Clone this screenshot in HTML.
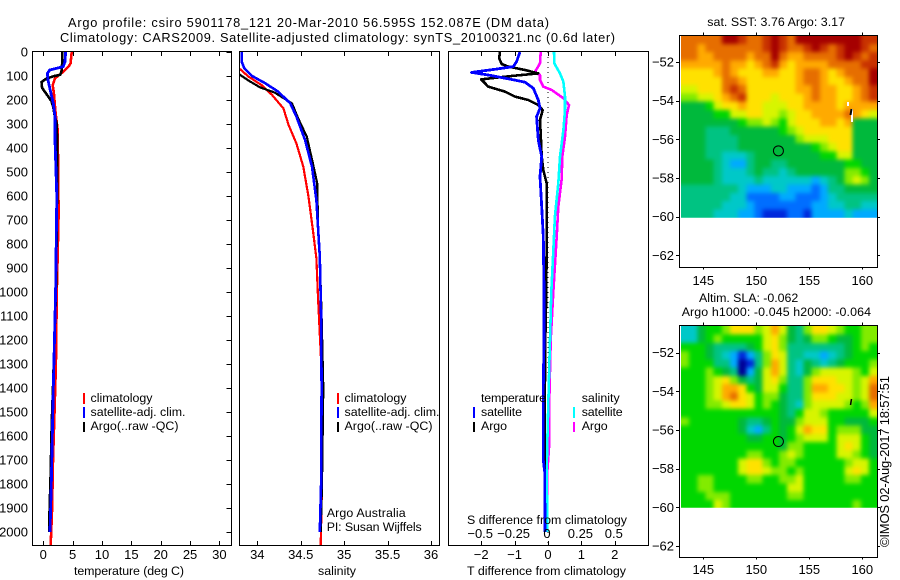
<!DOCTYPE html>
<html>
<head>
<meta charset="utf-8">
<title>Argo profile csiro 5901178_121</title>
<style>
html,body{margin:0;padding:0;background:#fff;}
svg{display:block;}
text{font-family:"Liberation Sans",sans-serif;font-size:12.4px;fill:#000;}
.tick{font-size:13px;}
.head{font-size:12.8px;}
</style>
</head>
<body>
<svg id="chart" width="900" height="580" viewBox="0 0 900 580" xmlns="http://www.w3.org/2000/svg">
<defs>
<clipPath id="clipTemp"><rect x="33" y="52" width="198" height="493"/></clipPath>
<clipPath id="clipSal"><rect x="240" y="52" width="199" height="493"/></clipPath>
<clipPath id="clipDiff"><rect x="449" y="52" width="199" height="493"/></clipPath>
<clipPath id="clipSst"><rect x="681" y="36" width="196" height="181.7"/></clipPath>
<clipPath id="clipSla"><rect x="681" y="326" width="196" height="181.7"/></clipPath>
<filter id="heatSoften" filterUnits="userSpaceOnUse" x="640" y="0" width="260" height="580" color-interpolation-filters="sRGB">
<feGaussianBlur stdDeviation="2.2"/>
</filter>
</defs>
<rect width="900" height="580" fill="#fff"/>
<g id="layer-heat">
<g clip-path="url(#clipSst)"><g id="sst-cells" filter="url(#heatSoften)"></g></g>
<g clip-path="url(#clipSla)"><g id="sla-cells" filter="url(#heatSoften)"></g></g>
</g>
<g id="layer-lines"></g>
<g id="layer-axes"></g>

<text class="head" x="68" y="27" textLength="481" lengthAdjust="spacing">Argo profile: csiro 5901178_121 20-Mar-2010 56.595S 152.087E (DM data)</text>
<text class="head" x="60" y="42" textLength="555" lengthAdjust="spacing">Climatology: CARS2009. Satellite-adjusted climatology: synTS_20100321.nc (0.6d later)</text>

<text x="74" y="575" textLength="110" lengthAdjust="spacing">temperature (deg C)</text>
<text x="318" y="575" textLength="38" lengthAdjust="spacing">salinity</text>
<text x="467" y="575" textLength="159" lengthAdjust="spacing">T difference from climatology</text>
<text x="467" y="524" textLength="160" lengthAdjust="spacing">S difference from climatology</text>

<g>
<rect x="83" y="393" width="2" height="11" fill="#f00"/>
<rect x="83" y="407" width="2" height="11" fill="#00f"/>
<rect x="83" y="422" width="2" height="10" fill="#000"/>
<text x="90.5" y="402" textLength="62" lengthAdjust="spacing">climatology</text>
<text x="90.5" y="416" textLength="95" lengthAdjust="spacing">satellite-adj. clim.</text>
<text x="90.5" y="430" textLength="88" lengthAdjust="spacing">Argo(..raw -QC)</text>
</g>
<g>
<rect x="337" y="393" width="2" height="11" fill="#f00"/>
<rect x="337" y="407" width="2" height="11" fill="#00f"/>
<rect x="337" y="422" width="2" height="10" fill="#000"/>
<text x="344.5" y="402" textLength="62" lengthAdjust="spacing">climatology</text>
<text x="344.5" y="416" textLength="95" lengthAdjust="spacing">satellite-adj. clim.</text>
<text x="344.5" y="430" textLength="88" lengthAdjust="spacing">Argo(..raw -QC)</text>
</g>
<text x="326.7" y="517" textLength="79" lengthAdjust="spacing">Argo Australia</text>
<text x="326.7" y="531" textLength="95" lengthAdjust="spacing">PI: Susan Wijffels</text>
<g>
<text x="481" y="402" textLength="65" lengthAdjust="spacing">temperature</text>
<rect x="473" y="407" width="2" height="11" fill="#00f"/>
<rect x="473" y="422" width="2" height="10" fill="#000"/>
<text x="481" y="416" textLength="41" lengthAdjust="spacing">satellite</text>
<text x="481" y="430" textLength="26" lengthAdjust="spacing">Argo</text>
<text x="581.7" y="402" textLength="38" lengthAdjust="spacing">salinity</text>
<rect x="573" y="407" width="2" height="11" fill="#0ff"/>
<rect x="573" y="422" width="2" height="10" fill="#f0f"/>
<text x="581.7" y="416" textLength="41" lengthAdjust="spacing">satellite</text>
<text x="581.7" y="430" textLength="26" lengthAdjust="spacing">Argo</text>
</g>

<text x="707.3" y="26" textLength="137.7" lengthAdjust="spacing">sat. SST: 3.76 Argo: 3.17</text>
<text x="699" y="302" textLength="99.3" lengthAdjust="spacing">Altim. SLA: -0.062</text>
<text x="681.7" y="316" textLength="189.3" lengthAdjust="spacing">Argo h1000: -0.045 h2000: -0.064</text>
<text class="tick" transform="translate(889,547) rotate(-90)" textLength="171" lengthAdjust="spacing">©IMOS 02-Aug-2017 18:57:51</text>
</svg>

<script>
// ---- depth ticks ----
var depthTicks = [0,100,200,300,400,500,600,700,800,900,1000,1100,1200,1300,1400,1500,1600,1700,1800,1900,2000];
var tempTicks = [0,5,10,15,20,25,30];
var salTicks = [34,34.5,35,35.5,36];
var salTickLabels = ['34','34.5','35','35.5','36'];
var diffTTicks = [-2,-1,0,1,2];
var diffTTickLabels = ['\u22122','\u22121','0','1','2'];
var diffSTicks = [-0.5,-0.25,0,0.25,0.5];
var diffSTickLabels = ['\u22120.5','\u22120.25','0','0.25','0.5'];
var mapLonTicks = [145,150,155,160];
var mapLatTicks = [-52,-54,-56,-58,-60,-62];

// ---- temperature profiles (deg C) ----
var climTempDepth = [0,47,61,82,110,138,172,256,325,672,1000,1300,1500,1700,1900,2054];
var climTempValue = [4.83,4.65,4.3,3.4,2.0,1.6,1.8,2.1,2.45,2.6,2.3,2.15,1.9,1.65,1.5,1.26];
var satTempDepth = [0,40,61,75,89,117,151,214,269,366,603,1000,1400,1600,1800,2000];
var satTempValue = [3.8,3.7,3.4,1.1,0.7,0.8,1.1,1.7,2.0,2.0,2.3,2.1,1.7,1.53,1.37,1.14];
var argoTempDepth = [0,50,80,95,100,110,125,150,170,205,230,260,300,450,700,1000,1400,1550,1750,1950,2000];
var argoTempValue = [3.25,3.2,3.1,2.9,1.9,0.6,-0.3,-0.2,0.4,1.4,1.7,1.9,2.3,2.4,2.3,2.15,1.65,1.43,1.26,1.02,1.0];

// ---- salinity profiles (PSU) ----
var climSalDepth = [0,68,103,138,179,235,304,381,478,603,742,860,1030,1400,1800,2054];
var climSalValue = [33.7,33.79,33.9,34.05,34.17,34.3,34.36,34.45,34.53,34.59,34.64,34.68,34.7,34.75,34.745,34.73];
var satSalDepth = [0,40,68,100,130,165,214,269,367,478,617,853,1100,1400,1800,2000];
var satSalValue = [33.82,33.82,33.85,33.94,34.09,34.24,34.38,34.45,34.55,34.63,34.68,34.72,34.735,34.74,34.735,34.72];
var argoSalDepth = [0,93,119,147,169,214,276,353,464,547,728,853,1100,1400,1800,2000];
var argoSalValue = [33.6,33.79,33.9,34.03,34.2,34.4,34.47,34.57,34.64,34.69,34.70,34.72,34.74,34.76,34.745,34.73];

// ---- differences from climatology ----
var satDiffTDepth = [0,40,61,72,85,96,117,126,151,200,235,269,367,436,519,644,769,1000,1200,1400,1700,1750,2000];
var satDiffTValue = [-0.84,-0.94,-1.04,-1.59,-2.29,-1.79,-0.99,-0.69,-0.44,-0.29,-0.24,-0.34,-0.29,-0.19,-0.24,-0.19,-0.14,-0.12,-0.12,-0.14,-0.14,-0.1,-0.09];
var argoDiffTDepth = [0,26,50,61,75,89,100,114,144,165,186,200,221,242,283,339,436,492,547,769,1000,1200,1500,2000];
var argoDiffTValue = [-1.44,-1.46,-1.39,-1.19,-0.69,-0.29,-1.09,-2.0,-1.79,-1.29,-0.99,-0.59,-0.29,-0.16,-0.24,-0.22,-0.19,-0.14,-0.04,-0.04,-0.05,-0.08,-0.1,-0.1];
var satDiffSDepth = [0,47,89,124,186,242,325,436,547,686,769,1000,1200,1400,1730,2000];
var satDiffSValue = [0.045,0.047,0.09,0.115,0.127,0.127,0.115,0.09,0.077,0.052,0.045,0.025,0.015,0.005,-0.01,-0.005];
var argoDiffSDepth = [0,47,86,96,117,144,158,193,221,263,353,436,533,644,769,1000,1200,1450,1630,1750,2000];
var argoDiffSValue = [-0.055,-0.06,-0.1,-0.06,-0.06,-0.035,0.027,0.115,0.157,0.14,0.127,0.107,0.102,0.077,0.065,0.04,0.02,0.01,0.01,-0.005,-0.005];

// ---- map grids: colour level per cell (north to south, west to east) ----
var sstLevels = [
[12,12,12,12,12,14,14,13,12,12,13,14,13,12,14,14,14,14,14,14,14,14,13,13],
[12,12,11,12,12,12,12,12,12,12,13,14,13,12,12,13,14,13,12,13,14,14,13,12],
[12,12,11,11,12,12,12,12,11,12,12,14,12,11,11,12,12,12,12,13,14,13,12,13],
[11,11,11,11,11,12,11,11,10,11,12,13,11,10,11,11,11,11,12,12,12,12,13,13],
[10,10,10,10,11,12,11,10,10,10,11,11,10,10,11,12,12,11,10,11,12,12,12,14],
[10,10,10,10,10,12,12,11,10,10,10,10,10,10,11,12,12,11,10,10,11,12,12,14],
[9,9,10,10,10,12,13,12,10,10,10,10,10,10,11,11,12,11,11,10,10,11,12,13],
[8,8,9,9,10,11,12,13,10,10,10,9,10,10,10,11,12,11,11,10,10,11,12,13],
[6,6,6,7,9,10,10,11,10,10,9,9,9,10,10,11,11,11,11,10,11,11,11,11],
[6,6,6,6,7,7,9,9,10,10,9,9,8,9,10,10,11,11,11,11,12,11,10,9],
[6,6,6,6,6,6,6,7,8,8,9,8,7,9,10,10,10,11,11,10,11,6,6,6],
[6,6,6,5,5,5,6,6,6,6,6,6,7,8,9,10,10,10,10,10,10,6,6,6],
[6,6,6,5,5,5,5,6,6,6,6,6,6,6,8,9,9,9,10,10,10,6,6,6],
[6,6,6,5,5,5,5,6,6,6,6,6,6,6,6,6,7,8,9,10,10,6,6,6],
[6,6,6,5,5,4,4,4,5,6,6,6,6,6,6,6,6,7,7,9,9,6,6,6],
[6,6,6,6,5,4,3,3,5,6,6,5,5,6,6,6,6,6,6,6,7,7,6,6],
[6,6,6,6,5,4,4,4,5,6,5,5,4,5,6,6,6,6,6,6,8,8,7,6],
[6,6,6,6,5,4,4,4,4,5,4,4,4,4,4,4,3,4,5,6,8,9,8,6],
[5,5,5,5,5,5,5,4,3,3,3,4,4,3,3,3,2,3,5,5,6,6,6,6],
[5,5,5,5,5,5,4,4,2,2,2,2,3,3,2,2,2,3,4,5,5,5,5,5],
[5,5,5,5,5,4,4,4,3,2,2,2,2,2,2,2,3,3,4,4,5,5,4,4],
[5,5,5,5,4,4,4,3,3,2,1,1,1,2,2,1,3,3,3,3,4,3,3,3]
];
var slaLevels = [
[4,4,6,7,7,8,10,10,10,8,9,11,9,6,5,8,10,10,9,8,7,7,8,8],
[4,4,6,7,8,7,7,7,7,7,9,10,8,6,5,6,8,8,7,6,6,7,8,8],
[7,7,7,6,5,5,5,5,6,7,9,10,8,5,5,5,5,5,5,5,6,7,8,7],
[8,7,7,6,5,4,3,1,3,5,8,10,9,5,5,4,4,3,4,5,6,7,7,7],
[8,7,7,7,5,5,3,0,1,5,8,11,9,5,4,6,5,4,5,6,7,7,7,8],
[7,7,7,8,7,6,5,0,3,6,9,11,9,5,4,6,8,9,9,9,9,8,7,9],
[7,7,7,8,9,10,8,6,5,6,9,10,8,5,5,8,10,10,10,9,9,8,9,11],
[7,7,7,8,9,11,11,10,7,6,9,9,7,5,5,8,11,11,10,10,9,8,9,12],
[7,7,7,8,9,11,12,10,9,7,8,8,6,5,5,8,10,10,10,9,9,8,9,12],
[7,7,7,8,8,9,10,10,9,7,8,7,6,5,4,8,9,9,9,9,8,7,8,11],
[7,7,7,7,7,7,7,7,7,7,7,7,6,5,7,9,9,8,7,7,7,7,7,9],
[8,7,7,7,7,7,7,6,5,5,6,7,6,6,8,9,9,9,7,7,6,6,6,7],
[7,7,7,7,7,7,7,6,4,3,5,7,6,7,9,11,10,10,7,8,8,8,6,6],
[7,7,7,7,7,7,7,7,6,6,7,7,6,7,8,9,9,9,7,9,9,9,7,6],
[7,7,7,7,7,7,7,7,7,7,7,7,6,8,8,7,7,7,7,9,10,9,7,6],
[7,7,7,7,7,7,7,7,8,8,7,7,8,9,8,7,7,7,7,9,9,8,7,6],
[7,7,7,7,7,7,7,9,10,10,8,7,8,8,7,7,7,7,7,7,8,9,9,7],
[7,7,7,7,7,7,7,9,10,10,9,8,8,7,8,7,7,7,7,7,9,10,9,7],
[7,7,8,8,7,7,7,7,8,8,7,7,8,8,9,7,7,7,7,7,8,8,7,7],
[7,7,8,8,7,7,7,7,7,7,7,7,7,9,9,7,7,7,7,7,7,7,7,7],
[7,7,7,8,8,8,7,7,7,7,7,7,7,8,8,7,7,7,7,7,7,7,7,7],
[7,7,7,7,9,8,7,7,7,7,7,7,7,7,7,7,7,7,7,7,7,8,7,7]
];
var levelColors = ['#000096','#0028dc','#006eff','#00aaff','#00c8c8','#00c382','#00b93c','#00d700','#82eb00','#d7f500','#ffe100','#ffaa00','#e66e00','#c83200','#a50000'];
var floatLon = 152.087;
var floatLat = -56.595;

// ---- axis functions ----
function yDepth(d){ return 52 + d*0.24; }
function xTemp(t){ return 43.3 + t*5.87; }
function xSal(s){ return 257.3 + (s-34)*86.85; }
function xDiffT(t){ return 548 + t*33.4; }
function xDiffS(s){ return 548 + s*133.6; }
function xLon(lon){ return 703.3 + (lon-145)*10.6; }
function yLatTop(lat){ return 62 + (-52-lat)*19.33; }
function yLatBot(lat){ return 352.7 + (-52-lat)*19.33; }

var SVGNS = 'http://www.w3.org/2000/svg';
function make(tag, parent, name, attrs){
  var el = document.createElementNS(SVGNS, tag);
  for (var k in attrs){ el.setAttribute(k, attrs[k]); }
  
  
  parent.appendChild(el);
  return el;
}
var heatLayer = document.getElementById('layer-heat');
var lineLayer = document.getElementById('layer-lines');
var axesLayer = document.getElementById('layer-axes');

// ---- heatmaps ----
function drawHeat(levels, yLat, name, parent){
  var rows = levels.length, cols = levels[0].length;
  var lonW = 142.89, lonE = 161.4, latN = -50.63, latS = -60.05;
  var pad = 14; // border cells run past the clip so softening has no fade at the edge
  for (var r = 0; r < rows; r++){
    for (var c = 0; c < cols; c++){
      var x0 = xLon(lonW + (lonE-lonW)*c/cols), x1 = xLon(lonW + (lonE-lonW)*(c+1)/cols);
      var y0 = yLat(latN + (latS-latN)*r/rows), y1 = yLat(latN + (latS-latN)*(r+1)/rows);
      if (c === 0) x0 -= pad;
      if (c === cols-1) x1 += pad;
      if (r === 0) y0 -= pad;
      if (r === rows-1) y1 += pad;
      make('rect', parent, name, {
        x: x0, y: y0, width: x1-x0+0.5, height: y1-y0+0.5,
        fill: levelColors[levels[r][c]], 'shape-rendering': 'crispEdges'
      });
    }
  }
}
drawHeat(sstLevels, yLatTop, 'sst-cell', document.getElementById('sst-cells'));
drawHeat(slaLevels, yLatBot, 'sla-cell', document.getElementById('sla-cells'));
// data gaps and coastline fragment
make('rect', heatLayer, 'sst-gap', {x:847,y:102,width:2,height:4,fill:'#fff'});
make('rect', heatLayer, 'sst-gap', {x:851,y:109,width:2,height:13,fill:'#fff'});
make('path', heatLayer, 'coast-fragment', {d:'M851.5 109 L850.5 115',stroke:'#000','stroke-width':2,fill:'none'});
make('path', heatLayer, 'coast-fragment', {d:'M851.5 399 L850.5 405',stroke:'#000','stroke-width':1.5,fill:'none'});

// ---- profile lines ----
function drawLine(depths, values, xf, color, clip, name, width){
  var pts = [];
  for (var i = 0; i < depths.length; i++){
    pts.push(xf(values[i]).toFixed(1) + ',' + yDepth(depths[i]).toFixed(1));
  }
  make('polyline', lineLayer, name, {
    points: pts.join(' '), fill: 'none', stroke: color, 'stroke-width': width,
    'clip-path': 'url(#' + clip + ')', 'shape-rendering': 'crispEdges', 'stroke-linejoin': 'round'
  });
}
make('line', lineLayer, 'zero-difference-line', {x1:xDiffT(0),y1:yDepth(0),x2:xDiffT(0),y2:545,stroke:'#000','stroke-width':1,'stroke-dasharray':'1 4'});
drawLine(climTempDepth, climTempValue, xTemp, '#f00', 'clipTemp', 'temperature-climatology-line', 2.6);
drawLine(argoTempDepth, argoTempValue, xTemp, '#000', 'clipTemp', 'temperature-argo-line', 2.6);
drawLine(satTempDepth, satTempValue, xTemp, '#00f', 'clipTemp', 'temperature-satellite-line', 2.8);
drawLine(climSalDepth, climSalValue, xSal, '#f00', 'clipSal', 'salinity-climatology-line', 2.2);
drawLine(argoSalDepth, argoSalValue, xSal, '#000', 'clipSal', 'salinity-argo-line', 2.2);
drawLine(satSalDepth, satSalValue, xSal, '#00f', 'clipSal', 'salinity-satellite-line', 2.6);
drawLine(argoDiffSDepth, argoDiffSValue, xDiffS, '#f0f', 'clipDiff', 'salinity-difference-argo-line', 2.6);
drawLine(satDiffSDepth, satDiffSValue, xDiffS, '#0ff', 'clipDiff', 'salinity-difference-satellite-line', 2.6);
drawLine(argoDiffTDepth, argoDiffTValue, xDiffT, '#000', 'clipDiff', 'temperature-difference-argo-line', 2.6);
drawLine(satDiffTDepth, satDiffTValue, xDiffT, '#00f', 'clipDiff', 'temperature-difference-satellite-line', 2.8);

// ---- axes ----
function box(x, y, w, h, name){
  make('rect', axesLayer, name, {x:x,y:y,width:w,height:h,fill:'none',stroke:'#000','stroke-width':1,'shape-rendering':'crispEdges'});
}
function tick(x1,y1,x2,y2,name){
  make('line', axesLayer, name, {x1:x1,y1:y1,x2:x2,y2:y2,stroke:'#000','stroke-width':1,'shape-rendering':'crispEdges'});
}
function label(x,y,txt,anchor,name){
  var t = make('text', axesLayer, name, {x:x,y:y,'text-anchor':anchor,'class':'tick'});
  t.textContent = txt;
}
box(32.5,51.5,199,494,'temperature-panel-frame');
box(239.5,51.5,200,494,'salinity-panel-frame');
box(448.5,51.5,200,494,'difference-panel-frame');
box(679.5,35.5,198,232,'sst-map-frame');
box(679.5,325.5,198,232,'sla-map-frame');

depthTicks.forEach(function(d){
  var y = Math.round(yDepth(d)) + 0.5;
  tick(226.5,y,231.5,y,'depth-tick');
  label(28, yDepth(d)+4.5, String(d), 'end', 'depth-tick-label');
});
tempTicks.forEach(function(t){
  var x = Math.round(xTemp(t)) + 0.5;
  tick(x,51.5,x,56,'temperature-tick');
  tick(x,541,x,545.5,'temperature-tick');
  label(xTemp(t), 559, String(t), 'middle', 'temperature-tick-label');
});
salTicks.forEach(function(s,i){
  var x = Math.round(xSal(s)) + 0.5;
  tick(x,51.5,x,56,'salinity-tick');
  tick(x,541,x,545.5,'salinity-tick');
  label(xSal(s), 559, salTickLabels[i], 'middle', 'salinity-tick-label');
});
diffTTicks.forEach(function(t,i){
  var x = Math.round(xDiffT(t)) + 0.5;
  tick(x,51.5,x,56,'t-difference-tick');
  tick(x,541,x,545.5,'t-difference-tick');
  label(xDiffT(t), 559, diffTTickLabels[i], 'middle', 't-difference-tick-label');
});
diffSTicks.forEach(function(s,i){
  label(xDiffS(s)-1, 538, diffSTickLabels[i], 'middle', 's-difference-tick-label');
});
function mapAxes(yLat, top, bottom, labelY){
  mapLonTicks.forEach(function(lon){
    var x = Math.round(xLon(lon)) + 0.5;
    tick(x,top-3,x,top,'longitude-tick');
    tick(x,bottom,x,bottom+2,'longitude-tick');
    label(xLon(lon), labelY, String(lon), 'middle', 'longitude-tick-label');
  });
  mapLatTicks.forEach(function(lat){
    var y = Math.round(yLat(lat)) + 0.5;
    tick(676,y,679.5,y,'latitude-tick');
    tick(877.5,y,880,y,'latitude-tick');
    label(674, yLat(lat)+4.5, '\u2212' + Math.abs(lat), 'end', 'latitude-tick-label');
  });
  make('circle', axesLayer, 'float-position-marker', {cx:xLon(floatLon),cy:yLat(floatLat),r:5,fill:'none',stroke:'#000','stroke-width':1});
}
mapAxes(yLatTop, 35.5, 267.5, 285);
mapAxes(yLatBot, 325.5, 557.5, 574);
</script>
</body>
</html>
